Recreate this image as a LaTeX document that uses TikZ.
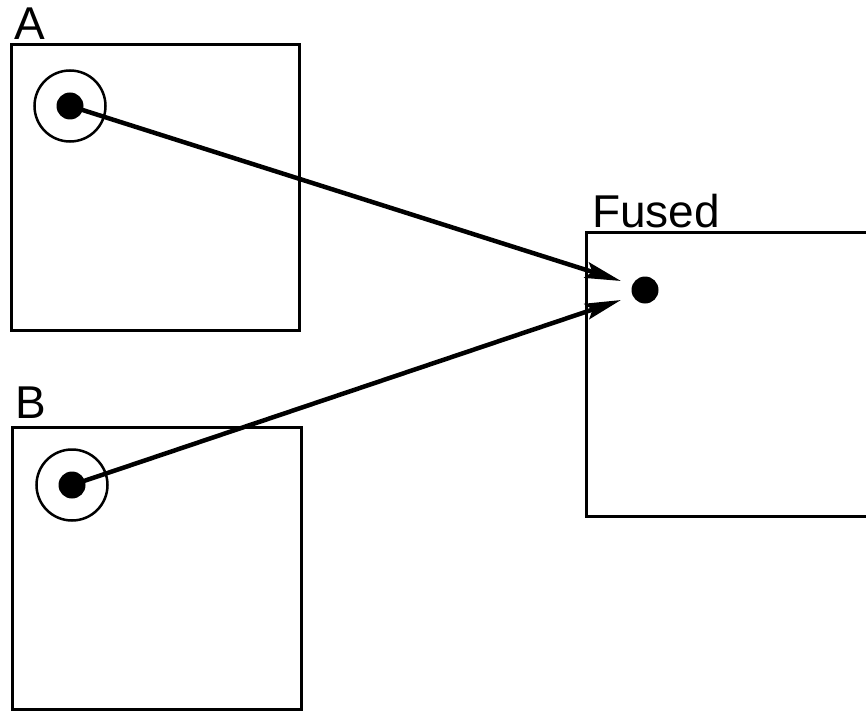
\documentclass[tikz,border=0pt]{standalone}
\usepackage{fontspec}
\setmainfont{Liberation Sans}
\usetikzlibrary{arrows.meta}
\begin{document}
\begin{tikzpicture}[x=1pt,y=-1pt,
  panel/.style={draw=black, line width=3pt, rectangle, anchor=north west, inner sep=0pt, outer sep=0pt},
  lbl/.style={anchor=base west, inner sep=0pt, outer sep=0pt, font=\fontsize{46}{52}\selectfont},
  ring/.style={draw=black, line width=2.5pt, circle, minimum size=71pt, inner sep=0pt},
  dot/.style={fill=black, circle, minimum size=27pt, inner sep=0pt},
  link/.style={line width=4.5pt, -{Stealth[length=36pt, width=16pt, inset=6pt]}}]
\useasboundingbox (0,0) rectangle (866,711);
\fill[white] (0,0) rectangle (866,711);
% panels
\node[panel, minimum width=288pt, minimum height=285pt] (boxA) at (11,45) {};
\node[panel, minimum width=289pt, minimum height=282pt] (boxB) at (12,427) {};
\node[panel, minimum width=300pt, minimum height=284pt] (boxF) at (586,232) {};
% labels
\node[lbl] (labA) at (14,40) {A};
\node[lbl] (labB) at (16,418) {B};
\node[lbl] (labF) at (592,227) {Fused};
% dots
\node[ring] (ringA) at (70,106) {};
\node[dot] (dotA) at (70,106) {};
\node[ring] (ringB) at (72,485) {};
\node[dot] (dotB) at (72,485) {};
\node[dot] (dotF) at (645,290) {};
% arrow tips
\coordinate (tipA) at (621,281);
\coordinate (tipB) at (621,300);
\draw[link] (dotA.center) -- (tipA);
\draw[link] (dotB.center) -- (tipB);
\end{tikzpicture}
\end{document}
